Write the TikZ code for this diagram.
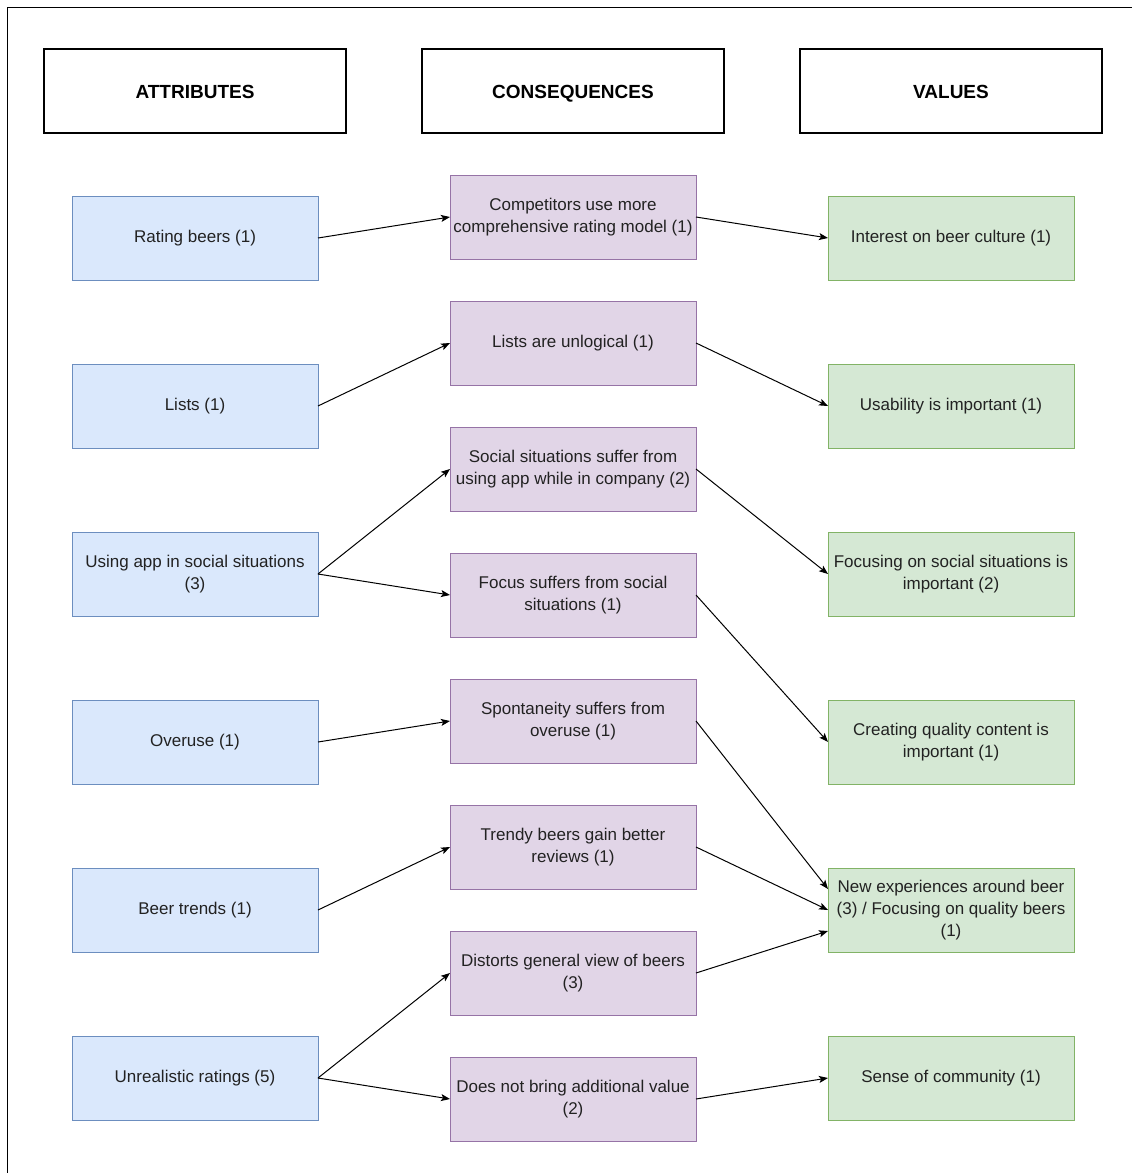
\documentclass[tikz,border=0pt]{standalone}
\usepackage{fontspec}
\setmainfont{Liberation Sans}
\usetikzlibrary{arrows.meta}
\definecolor{attrfill}{HTML}{DAE8FC}
\definecolor{attrline}{HTML}{6C8EBF}
\definecolor{consfill}{HTML}{E1D5E7}
\definecolor{consline}{HTML}{9673A6}
\definecolor{valfill}{HTML}{D5E8D4}
\definecolor{valline}{HTML}{82B366}
\definecolor{txt}{HTML}{222222}
\begin{document}
\begin{tikzpicture}[x=1pt,y=-1pt,
  box/.style={draw, line width=1pt, minimum width=246pt, minimum height=84pt,
    inner sep=0pt, outer sep=0pt, align=center, text=txt,
    font=\fontsize{17}{22}\selectfont},
  header/.style={draw=black, line width=1.2pt, fill=white, minimum width=302pt,
    minimum height=84pt, inner sep=0pt, outer sep=0pt,
    text height=14pt, text depth=0pt,
    font=\fontsize{19}{22}\selectfont\bfseries},
  attr/.style={box, fill=attrfill, draw=attrline},
  cons/.style={box, fill=consfill, draw=consline},
  val/.style={box, fill=valfill, draw=valline},
  link/.style={line width=1pt, -{Stealth[length=9pt,width=7pt,inset=2pt]}}]
\useasboundingbox (0,0) rectangle (1132,1173);
% outer frame
\draw[line width=1.5pt] (7.5,1173) -- (7.5,7.5) -- (1132,7.5);

% column headers
\node[header] (hA) at (195,91) {ATTRIBUTES};
\node[header] (hC) at (573,91) {CONSEQUENCES};
\node[header] (hV) at (951,91) {VALUES};

% attributes
\node[attr] (a1) at (195,238) {Rating beers (1)};
\node[attr] (a2) at (195,406) {Lists (1)};
\node[attr] (a3) at (195,574) {Using app in social situations\\(3)};
\node[attr] (a4) at (195,742) {Overuse (1)};
\node[attr] (a5) at (195,910) {Beer trends (1)};
\node[attr] (a6) at (195,1078) {Unrealistic ratings (5)};

% consequences
\node[cons] (c1) at (573,217) {Competitors use more\\comprehensive rating model (1)};
\node[cons] (c2) at (573,343) {Lists are unlogical (1)};
\node[cons] (c3) at (573,469) {Social situations suffer from\\using app while in company (2)};
\node[cons] (c4) at (573,595) {Focus suffers from social\\situations (1)};
\node[cons] (c5) at (573,721) {Spontaneity suffers from\\overuse (1)};
\node[cons] (c6) at (573,847) {Trendy beers gain better\\reviews (1)};
\node[cons] (c7) at (573,973) {Distorts general view of beers\\(3)};
\node[cons] (c8) at (573,1099) {Does not bring additional value\\(2)};

% values
\node[val] (v1) at (951,238) {Interest on beer culture (1)};
\node[val] (v2) at (951,406) {Usability is important (1)};
\node[val] (v3) at (951,574) {Focusing on social situations is\\important (2)};
\node[val] (v4) at (951,742) {Creating quality content is\\important (1)};
\node[val] (v5) at (951,910) {New experiences around beer\\(3) / Focusing on quality beers\\(1)};
\node[val] (v6) at (951,1078) {Sense of community (1)};

% attributes -> consequences
\draw[link] (a1.east) -- (c1.west);
\draw[link] (a2.east) -- (c2.west);
\draw[link] (a3.east) -- (c3.west);
\draw[link] (a3.east) -- (c4.west);
\draw[link] (a4.east) -- (c5.west);
\draw[link] (a5.east) -- (c6.west);
\draw[link] (a6.east) -- (c7.west);
\draw[link] (a6.east) -- (c8.west);

% consequences -> values
\draw[link] (c1.east) -- (v1.west);
\draw[link] (c2.east) -- (v2.west);
\draw[link] (c3.east) -- (v3.west);
\draw[link] (c4.east) -- (v4.west);
\draw[link] (c5.east) -- ([yshift=21pt]v5.west);
\draw[link] (c6.east) -- (v5.west);
\draw[link] (c7.east) -- ([yshift=-21pt]v5.west);
\draw[link] (c8.east) -- (v6.west);
\end{tikzpicture}
\end{document}
